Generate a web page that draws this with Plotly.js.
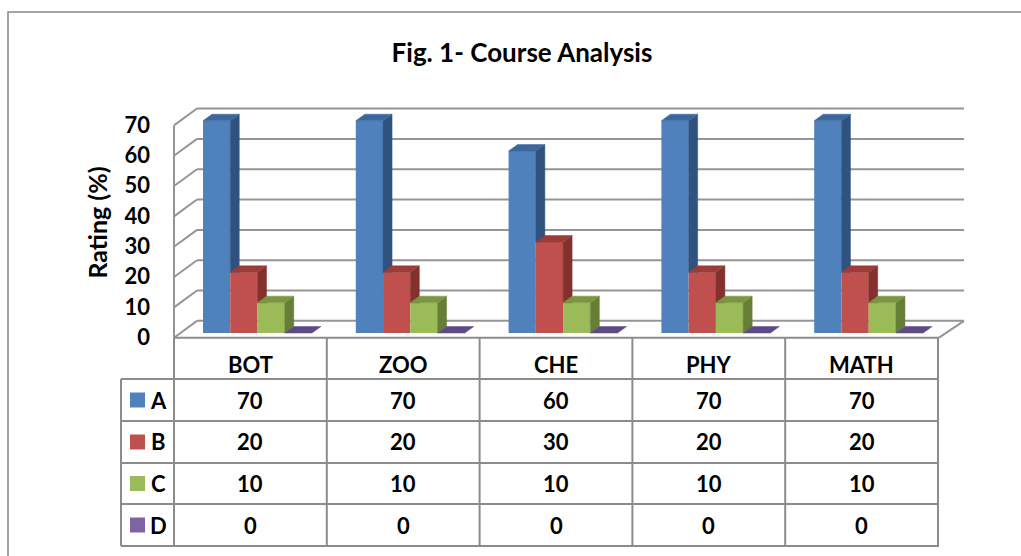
<!DOCTYPE html>
<html>
<head>
<meta charset="utf-8">
<script src="https://cdn.plot.ly/plotly-3.0.1.min.js"></script>
<style>
  html, body { margin: 0; padding: 0; background: #ffffff; }
  #chart { width: 1021px; height: 556px; }
</style>
</head>
<body>
<div id="chart"></div>
<script>
// ---------------- data ----------------
const categories = ['BOT', 'ZOO', 'CHE', 'PHY', 'MATH'];
const seriesNames = ['A', 'B', 'C', 'D'];
const valuesA = [70, 70, 60, 70, 70];
const valuesB = [20, 20, 30, 20, 20];
const valuesC = [10, 10, 10, 10, 10];
const valuesD = [0, 0, 0, 0, 0];
const yTicks = [0, 10, 20, 30, 40, 50, 60, 70];

const series = [valuesA, valuesB, valuesC, valuesD];
const frontColors = ['#4F81BD', '#C0504D', '#9BBB59', '#8064A2'];
const sideColors  = ['#30527f', '#84312e', '#667e35', '#4f3d6b'];
const topColors   = ['#3c679e', '#9c3c39', '#7a9641', '#5e4a85'];

// ---------------- geometry ----------------
const FW = 1021, FH = 556;
const L = 170, R = 975, T = 100, B = 345;       // plot area in pixels
const W = R - L, H = B - T;
const XU = 152.8, X0 = 257.5;                    // x: pixels per category, pixel of category 0
const YU = 3.033, Y0 = 333;                      // y: pixels per unit, pixel of value 0
const xr = [(L - X0) / XU, (R - X0) / XU];
const yr = [(Y0 - B) / YU, (Y0 - T) / YU];
const px2x = px => (px - L) / W;                 // pixel -> paper
const py2y = py => (B - py) / H;

const groupW = 0.7134;
const barW = groupW / series.length;
const dx = 9 / XU, dy = 6.5 / YU;                // 3-D depth offset
const frontOff = -1.55, backOff = 4.0;           // wall planes relative to bar plane
const xFrontL = (174 - X0) / XU, xBackL = (197 - X0) / XU;
const xFrontR = (939 - X0) / XU, xBackR = (964 - X0) / XU;

const FONT = 'Lato, "Open Sans", sans-serif';
const GRID = '#959595';
const TABLE = '#8c8c8c';

// ---------------- traces ----------------
const traces = [];
series.forEach((vals, s) => {
  traces.push({
    type: 'bar', name: seriesNames[s],
    x: categories.map((c, i) => i), y: vals,
    marker: { color: frontColors[s], line: { width: 0 } },
    hovertext: categories, hoverinfo: 'text+y+name', showlegend: false
  });
});
series.forEach((vals, s) => {
  const sx = [], sy = [], tx = [], ty = [];
  vals.forEach((v, i) => {
    const x0 = i - groupW / 2 + s * barW, x1 = x0 + barW;
    const next = s < series.length - 1 ? series[s + 1][i] : 0;
    const b = Math.max(0, next);
    if (v + dy > b && s < series.length - 1) {
      sx.push(x1, x1 + dx, x1 + dx, x1, x1, null);
      sy.push(b, Math.max(b, dy), v + dy, v, b, null);
    }
    tx.push(x0, x1, x1 + dx, x0 + dx, x0, null);
    ty.push(v, v, v + dy, v + dy, v, null);
  });
  if (sx.length) traces.push({
    type: 'scatter', mode: 'lines', x: sx, y: sy, fill: 'toself',
    fillcolor: sideColors[s], line: { color: sideColors[s], width: 0.5 },
    hoverinfo: 'skip', showlegend: false
  });
  traces.push({
    type: 'scatter', mode: 'lines', x: tx, y: ty, fill: 'toself',
    fillcolor: topColors[s], line: { color: topColors[s], width: 0.5 },
    hoverinfo: 'skip', showlegend: false
  });
});

// ---------------- shapes (walls, floor, table, frame) ----------------
const shapes = [];
const dl = (x0, y0, x1, y1, color, width, xref, yref) => shapes.push({
  type: 'line', x0, y0, x1, y1, xref: xref || 'x', yref: yref || 'y',
  line: { color, width }, layer: 'below'
});
// back-wall gridlines and left-wall diagonals
yTicks.forEach(t => {
  dl(xBackL, t + backOff, xBackR, t + backOff, GRID, 2);
  dl(xFrontL, t + frontOff, xBackL, t + backOff, GRID, 2);
});
// left wall front edge
dl(xFrontL, frontOff, xFrontL, yTicks[yTicks.length - 1] + frontOff, GRID, 2);
// floor front edge and right edge
dl(xFrontL, frontOff, xFrontR, frontOff, TABLE, 2);
dl(xFrontR, frontOff, xBackR, backOff, GRID, 2);

// table grid
const headerBottom = 379;
const rowLines = [379, 421, 463, 504, 546];
const rowCenters = [400, 442, 483.5, 525];
const headerTextY = 364;
const tableTop = 338;
const legendLeft = 121;
for (let k = 0; k <= categories.length; k++) {
  const xv = xFrontL + k;
  dl(xv, py2y(tableTop), xv, py2y(rowLines[rowLines.length - 1]), TABLE, 2, 'x', 'paper');
}
rowLines.forEach(py => {
  dl(px2x(legendLeft), py2y(py), px2x(939), py2y(py), TABLE, 2, 'paper', 'paper');
});
dl(px2x(legendLeft), py2y(headerBottom), px2x(legendLeft), py2y(rowLines[rowLines.length - 1]), TABLE, 2, 'paper', 'paper');

// legend keys
seriesNames.forEach((n, s) => {
  shapes.push({
    type: 'rect', xref: 'paper', yref: 'paper',
    x0: px2x(130), x1: px2x(145),
    y0: py2y(rowCenters[s] + 7.5), y1: py2y(rowCenters[s] - 7.5),
    fillcolor: frontColors[s], line: { width: 0 }, layer: 'above'
  });
});

// outer chart frame
shapes.push({
  type: 'rect', xref: 'paper', yref: 'paper',
  x0: px2x(8), x1: px2x(1040), y0: py2y(620), y1: py2y(12),
  line: { color: '#888888', width: 1.5 }, fillcolor: 'rgba(0,0,0,0)', layer: 'below'
});

// ---------------- annotations (table text) ----------------
const annotations = [];
const tf = { family: FONT, size: 22, color: '#000000', weight: 700 };
categories.forEach((c, i) => {
  annotations.push({
    x: xFrontL + i + 0.5, y: py2y(headerTextY), xref: 'x', yref: 'paper',
    text: c, showarrow: false, font: tf, xanchor: 'center', yanchor: 'middle'
  });
  series.forEach((vals, s) => {
    annotations.push({
      x: xFrontL + i + 0.5, y: py2y(rowCenters[s]), xref: 'x', yref: 'paper',
      text: String(vals[i]), showarrow: false, font: tf, xanchor: 'center', yanchor: 'middle'
    });
  });
});
seriesNames.forEach((n, s) => {
  annotations.push({
    x: px2x(158.5), y: py2y(rowCenters[s]), xref: 'paper', yref: 'paper',
    text: n, showarrow: false, font: tf, xanchor: 'center', yanchor: 'middle'
  });
});

// ---------------- layout ----------------
const layout = {
  width: FW, height: FH,
  margin: { l: L, r: FW - R, t: T, b: FH - B, pad: 0 },
  paper_bgcolor: '#ffffff', plot_bgcolor: 'rgba(0,0,0,0)',
  title: {
    text: 'Fig. 1- Course Analysis',
    font: { family: FONT, size: 26, color: '#000000', weight: 700 },
    x: 522 / FW, xanchor: 'center', y: 1 - 53 / FH, yanchor: 'middle',
    xref: 'container', yref: 'container'
  },
  barmode: 'group', bargap: 1 - groupW, bargroupgap: 0,
  showlegend: false,
  xaxis: {
    range: xr, showgrid: false, zeroline: false, showline: false,
    showticklabels: false, ticks: '', fixedrange: true
  },
  yaxis: {
    range: yr, showgrid: false, zeroline: false, showline: false,
    tickvals: yTicks.map(t => t - 1.4), ticktext: yTicks.map(String),
    ticks: '', ticklabelstandoff: 19,
    tickfont: { family: FONT, size: 22, color: '#000000', weight: 700 },
    title: { text: 'Rating (%)', standoff: 9,
             font: { family: FONT, size: 25, color: '#000000', weight: 700 } },
    fixedrange: true
  },
  shapes, annotations
};

Plotly.newPlot('chart', traces, layout, { displayModeBar: false, staticPlot: true });
</script>
</body>
</html>
